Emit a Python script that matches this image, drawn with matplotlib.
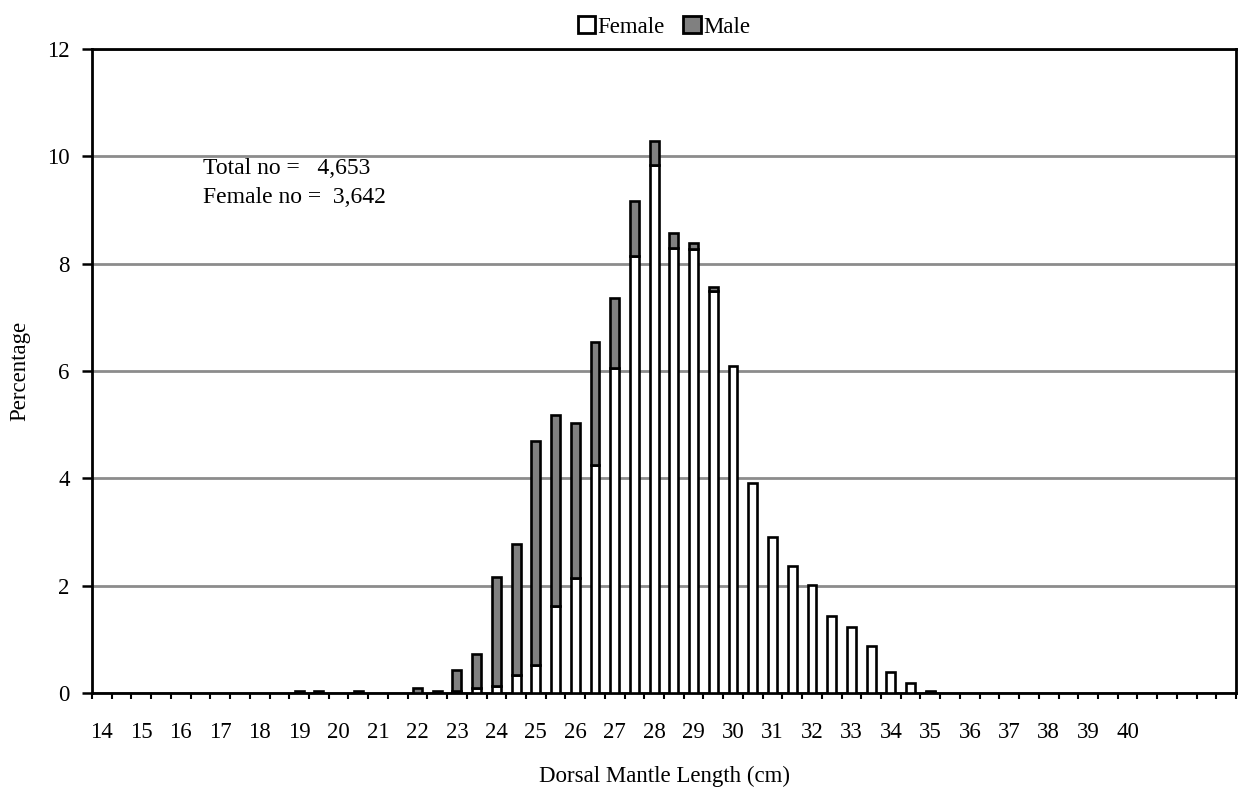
import numpy as np
import matplotlib.pyplot as plt
from matplotlib.ticker import FixedLocator, NullFormatter

plt.rcParams['font.family'] = ['Liberation Serif', 'DejaVu Serif']

# percentage of total catch per half-cm length class (non-zero classes only)
cls = [19.0, 19.5, 20.5, 22.0, 22.5, 23.0, 23.5, 24.0, 24.5, 25.0,
       25.5, 26.0, 26.5, 27.0, 27.5, 28.0, 28.5, 29.0, 29.5, 30.0,
       30.5, 31.0, 31.5, 32.0, 32.5, 33.0, 33.5, 34.0, 34.5, 35.0]
female_pct = [0.00, 0.00, 0.00, 0.00, 0.00, 0.04, 0.09, 0.14, 0.34, 0.53,
              1.62, 2.15, 4.24, 6.05, 8.14, 9.84, 8.29, 8.27, 7.50, 6.09,
              3.91, 2.91, 2.37, 2.01, 1.44, 1.23, 0.88, 0.39, 0.19, 0.02]
male_pct = [0.04, 0.04, 0.04, 0.09, 0.04, 0.39, 0.64, 2.03, 2.43, 4.17,
            3.57, 2.89, 2.30, 1.31, 1.02, 0.45, 0.29, 0.11, 0.06, 0.00,
            0.00, 0.00, 0.00, 0.00, 0.00, 0.00, 0.00, 0.00, 0.00, 0.02]

total_no = '4,653'
female_no = '3,642'

x = np.array(cls)
female = np.array(female_pct)
male = np.array(male_pct)
fm = female > 0
mm = male > 0

fig = plt.figure(figsize=(12.47, 7.87), dpi=100)
ax = fig.add_axes([0.0738, 0.1194, 0.9174, 0.8183])

w = 0.225
ax.bar(x[fm], female[fm], width=w, color='white', edgecolor='black',
       linewidth=1.9, label='Female', zorder=3)
ax.bar(x[mm], male[mm], width=w, bottom=female[mm], color='#808080',
       edgecolor='black', linewidth=1.9, label='Male', zorder=3)

# classes run 14.0 .. 42.5
ax.set_xlim(13.75, 42.75)
ax.set_ylim(0, 12)
ax.set_yticks(np.arange(0, 13, 2))
ax.yaxis.grid(True, color='#8c8c8c', linewidth=2, zorder=0)

# class boundary ticks, labels at whole cm
ax.xaxis.set_major_locator(FixedLocator(np.arange(13.75, 42.8, 0.5)))
ax.xaxis.set_major_formatter(NullFormatter())
ax.xaxis.set_minor_locator(FixedLocator(np.arange(14, 41, 1)))
ax.set_xticklabels([str(v) for v in range(14, 41)], minor=True)
ax.tick_params(axis='x', which='major', direction='out', length=4, width=1.5)
ax.tick_params(axis='x', which='minor', length=0, pad=21, labelsize=16.5)
ax.tick_params(axis='y', direction='out', length=7, width=1.8, pad=9,
               labelsize=16.5)

for s in ax.spines.values():
    s.set_linewidth(2)

ax.set_xlabel('Dorsal Mantle Length (cm)', fontsize=16.5, labelpad=16)
ax.set_ylabel('Percentage', fontsize=16.5, labelpad=12)

ax.text(0.097, 0.815, 'Total no =   ' + total_no, transform=ax.transAxes,
        fontsize=17, va='center')
ax.text(0.097, 0.770, 'Female no =  ' + female_no, transform=ax.transAxes,
        fontsize=17, va='center')

leg = ax.legend(loc='lower center', bbox_to_anchor=(0.5, 1.0), ncol=2,
                frameon=False, fontsize=16.5, handlelength=0.75,
                handleheight=0.75, handletextpad=0.1, columnspacing=0.8,
                borderaxespad=0.1)
for h in leg.legend_handles:
    h.set_linewidth(2)

fig.savefig('out.png', dpi=100)
